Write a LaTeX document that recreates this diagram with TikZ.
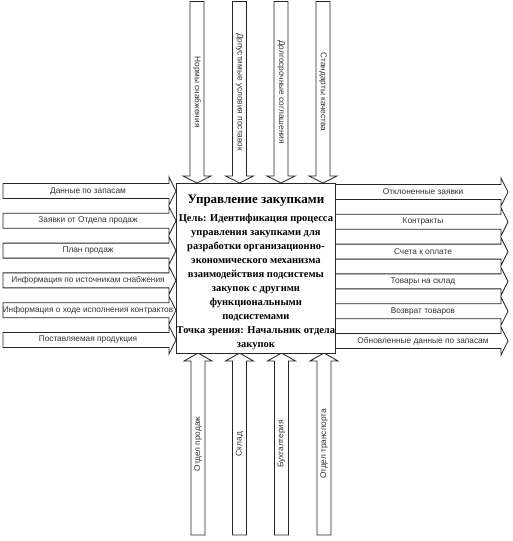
\documentclass[tikz,border=0pt]{standalone}
\usepackage{fontspec}
\setmainfont{Liberation Serif}
\setsansfont{Liberation Sans}

\tikzset{
  blockarrow/.style={draw=black!85,line width=0.85pt,fill=white,line join=miter},
  arrowlabel/.style={font=\sffamily\fontsize{8.3}{9}\selectfont,text=black!80,inner sep=0pt},
  processbox/.style={draw=black!85,line width=0.85pt,fill=white,minimum width=159pt,minimum height=170pt,inner sep=0pt},
  boxtext/.style={align=center,inner sep=0pt,font=\bfseries\fontsize{10.5}{14}\selectfont}
}

\begin{document}
\begin{tikzpicture}[x=1pt,y=-1pt]
\useasboundingbox (0,0) rectangle (512,541);

% входы
\foreach \y/\txt [count=\i] in {191/{Данные по запасам},220.8/{Заявки от Отдела продаж},250.6/{План продаж},
  280.4/{Информация по источникам снабжения},310.2/{Информация о ходе исполнения контрактов},340/{Поставляемая продукция}}
{
  \draw[blockarrow] (3,\y-7.5) -- (169,\y-7.5) -- (169,\y-14) -- (176,\y) -- (169,\y+14) -- (169,\y+7.5) -- (3,\y+7.5) -- cycle;
  \node[arrowlabel] (in\i) at (88,\y) {\txt};
}

% выходы
\foreach \y/\txt [count=\i] in {192/{Отклоненные заявки},221.8/{Контракты},251.6/{Счета к оплате},
  281.4/{Товары на склад},311.2/{Возврат товаров},341/{Обновленные данные по запасам}}
{
  \draw[blockarrow] (335,\y-7.5) -- (501,\y-7.5) -- (501,\y-14) -- (508,\y) -- (501,\y+14) -- (501,\y+7.5) -- (335,\y+7.5) -- cycle;
  \node[arrowlabel] (out\i) at (423,\y) {\txt};
}

% управление
\foreach \x/\txt [count=\i] in {197/{Нормы снабжения},239.5/{Допустимые условия поставок},281/{Долгосрочные соглашения},323/{Стандарты качества}}
{
  \draw[blockarrow] (\x-7,1.5) -- (\x-7,176) -- (\x-14,176) -- (\x,183) -- (\x+14,176) -- (\x+7,176) -- (\x+7,1.5) -- cycle;
  \node[arrowlabel,rotate=-90] (ctrl\i) at (\x,92) {\txt};
}

% механизмы
\foreach \x/\txt [count=\i] in {198/{Отдел продаж},239.5/{Склад},281.5/{Бухгалтерия},324/{Отдел транспорта}}
{
  \draw[blockarrow] (\x-7,535) -- (\x-7,361) -- (\x-14,361) -- (\x,353) -- (\x+14,361) -- (\x+7,361) -- (\x+7,535) -- cycle;
  \node[arrowlabel,rotate=90] (mech\i) at (\x,444) {\txt};
}

\node[processbox,anchor=north west] (box) at (176,183) {};
\node[boxtext,anchor=north] (boxtitle) at ([yshift=-12pt]box.north) {%
  {\fontsize{13}{17}\selectfont Управление закупками}\\[4pt]
  Цель: Идентификация процесса\\
  управления закупками для\\
  разработки организационно-\\
  экономического механизма\\
  взаимодействия подсистемы\\
  закупок с другими\\
  функциональными\\
  подсистемами\\
  Точка зрения: Начальник отдела\\
  закупок};

\end{tikzpicture}
\end{document}
